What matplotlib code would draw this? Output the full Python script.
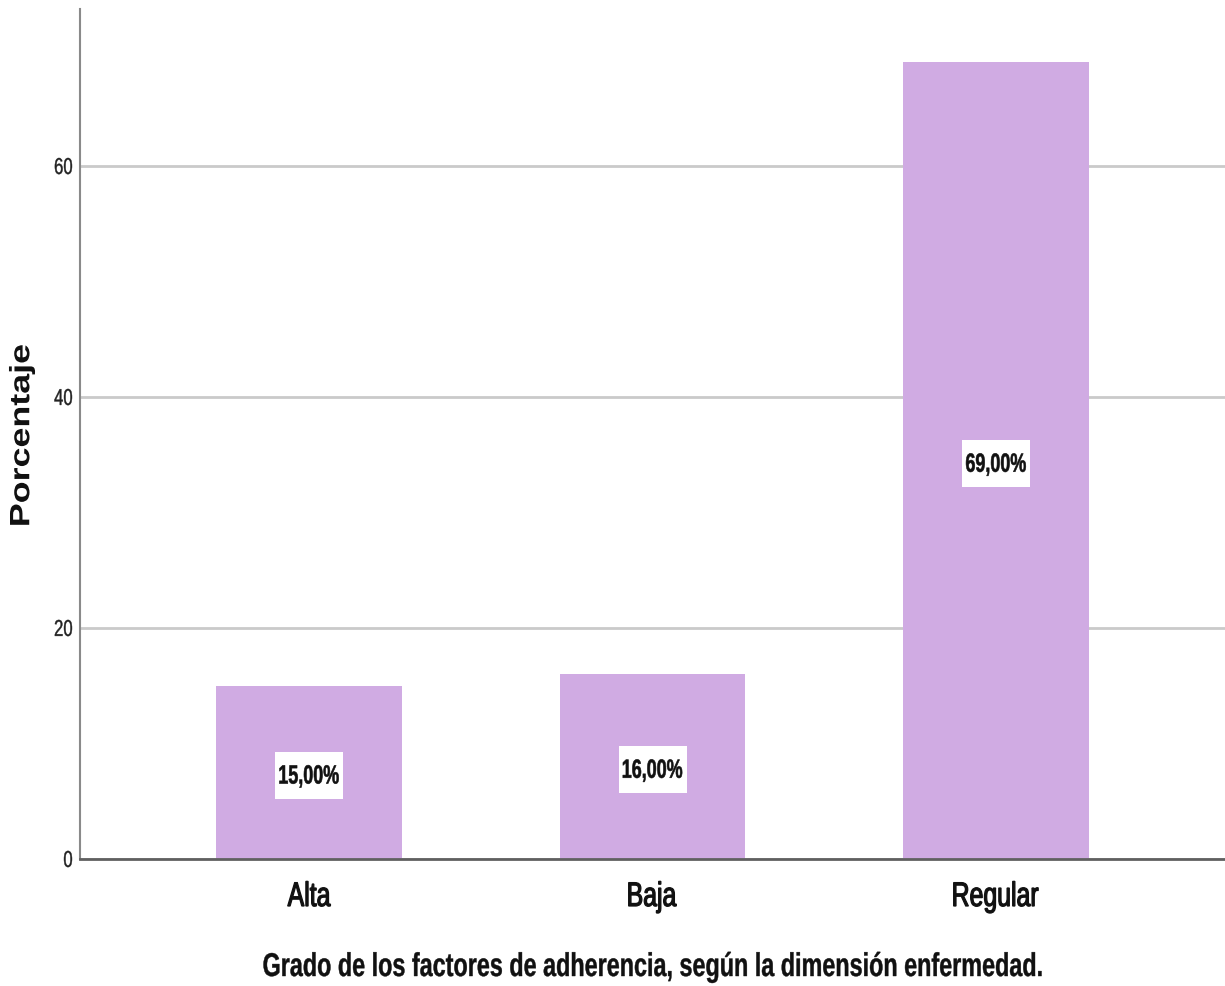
import matplotlib.pyplot as plt
import matplotlib.transforms as mtransforms
from matplotlib.font_manager import FontProperties
from matplotlib.patches import PathPatch, Rectangle
from matplotlib.textpath import TextPath
import numpy as np

categorias = ['Alta', 'Baja', 'Regular']
porcentajes = [15.0, 16.0, 69.0]
yticks = [0, 20, 40, 60]

W, H = 1225, 987
fig = plt.figure(figsize=(W / 100, H / 100), dpi=100)
ax = fig.add_axes([80 / W, 127 / H, 1 - 80 / W, 1 - 137 / H])

SX = 0.73  # horizontal squeeze of the lettering


def narrow_text(x, y, s, size, transform, weight='normal', ha='center', va='center',
                rotation=0, sx=SX, color='#111111', dy=0, stroke=0.0, zorder=6):
    """Draw s as a path, condensed horizontally by sx (in display space)."""
    tp = TextPath((0, 0), s, size=size, prop=FontProperties(family='Liberation Sans', weight=weight))
    ext = tp.get_extents()
    ox = {'left': ext.x0, 'center': (ext.x0 + ext.x1) / 2, 'right': ext.x1}[ha]
    oy = {'baseline': 0, 'bottom': ext.y0, 'center': (ext.y0 + ext.y1) / 2, 'top': ext.y1}[va]
    k = fig.dpi / 72
    tr = (mtransforms.Affine2D().translate(-ox, -oy).scale(k).rotate_deg(rotation)
          .scale(sx, 1).translate(0, dy) + mtransforms.ScaledTranslation(x, y, transform))
    patch = PathPatch(tp, transform=tr, facecolor=color, edgecolor=color if stroke else 'none',
                      linewidth=stroke, zorder=zorder, clip_on=False)
    fig.add_artist(patch)
    return ext.width * k * sx, ext.height * k


x = np.arange(len(categorias))
bars = ax.bar(x, porcentajes, width=0.54, color='#D0ABE3', zorder=3)

ax.set_xlim(-0.667, 2.667)
ax.set_ylim(0, 73.6)
ax.set_yticks(yticks)
ax.set_xticks(x)
ax.set_xticklabels([])
ax.set_yticklabels([])
ax.tick_params(axis='both', length=0)

ax.yaxis.grid(True, color='#CACACA', linewidth=2, zorder=0)
ax.set_axisbelow(True)

for s in ['top', 'right']:
    ax.spines[s].set_visible(False)
ax.spines['left'].set_color('#8A8A8A')
ax.spines['left'].set_linewidth(1.5)
ax.spines['bottom'].set_color('#606060')
ax.spines['bottom'].set_linewidth(2)
ax.spines['bottom'].set_zorder(4)

# y tick labels
ytr = mtransforms.blended_transform_factory(fig.transFigure, ax.transData)
for t in yticks:
    narrow_text(72 / W, t, str(t), 16.5, ytr, ha='right', va='center', color='#222222',
                stroke=0.3)

# category labels
xtr = mtransforms.blended_transform_factory(ax.transData, fig.transFigure)
for xi, cat in zip(x, categorias):
    narrow_text(xi, (H - 907) / H, cat, 24.5, xtr, ha='center', va='baseline', stroke=0.9)

# value labels in white boxes at half bar height
for bar, v in zip(bars, porcentajes):
    cx = bar.get_x() + bar.get_width() / 2
    box_tr = mtransforms.Affine2D().translate(0, -3) + \
        mtransforms.ScaledTranslation(cx, v / 2, ax.transData)
    ax.add_patch(Rectangle((-34, -23.5), 68, 47, transform=box_tr, facecolor='white',
                           edgecolor='none', zorder=5))
    narrow_text(cx, v / 2, f'{v:.2f}%'.replace('.', ','), 19, ax.transData,
                weight='bold', ha='center', va='center', sx=0.68, dy=-4, stroke=0.4)

# axis titles
narrow_text(22 / W, 1 - 436 / H, 'Porcentaje', 25.8, fig.transFigure, weight='bold',
            ha='center', va='center', rotation=90, sx=0.78)
xl_tr = mtransforms.blended_transform_factory(ax.transAxes, fig.transFigure)
narrow_text(0.5, (H - 977) / H, 'Grado de los factores de adherencia, según la dimensión enfermedad.',
            23.7, xl_tr, weight='bold', ha='center', va='baseline', sx=0.71, stroke=0.3)

fig.savefig('out.png', dpi=100)
